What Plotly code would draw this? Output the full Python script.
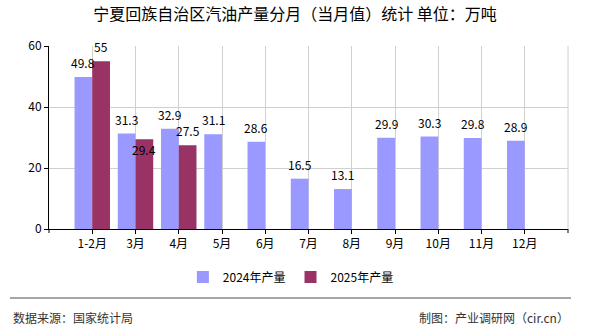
import plotly.graph_objects as go

categories = ["1-2月", "3月", "4月", "5月", "6月", "7月", "8月", "9月", "10月", "11月", "12月"]
values_2024 = [49.8, 31.3, 32.9, 31.1, 28.6, 16.5, 13.1, 29.9, 30.3, 29.8, 28.9]
values_2025 = [55, 29.4, 27.5]
series_names = ["2024年产量", "2025年产量"]
y_ticks = [0, 20, 40, 60]

FONT = "Noto Sans CJK SC"
W, H = 590, 330
L, R, T, B = 49, 22, 46, 101
pw, ph = W - L - R, H - T - B
BARGAP = 0.18

def px_x(x):
    return (x - L) / pw

def px_y(y):
    return (H - B - y) / ph

fig = go.Figure()
fig.add_trace(go.Bar(
    x=categories, y=values_2024, name=series_names[0],
    marker=dict(color="#9999FF", line=dict(width=0)),
))
fig.add_trace(go.Bar(
    x=categories[:len(values_2025)], y=values_2025, name=series_names[1],
    marker=dict(color="#993366", line=dict(width=0)),
))

fig.update_layout(
    width=W, height=H,
    margin=dict(l=L, r=R, t=T, b=B, pad=0),
    paper_bgcolor="white", plot_bgcolor="white",
    font=dict(family=FONT, size=12, color="#000000"),
    barmode="group", bargap=BARGAP, bargroupgap=0,
    title=dict(text="宁夏回族自治区汽油产量分月（当月值）统计 单位：万吨",
               x=0.5, xref="container", xanchor="center",
               y=1 - 14 / H, yref="container", yanchor="middle",
               font=dict(size=16, color="#000000", family=FONT)),
    legend=dict(orientation="h", xref="container", yref="container",
                x=0.493, xanchor="center", y=1 - 277 / H, yanchor="middle",
                font=dict(size=12, color="#000000", family=FONT),
                itemwidth=30, traceorder="normal"),
    showlegend=True,
)
fig.update_xaxes(
    type="category", categoryorder="array", categoryarray=categories,
    range=[-1, len(categories)],
    showline=True, linecolor="#000000", linewidth=1,
    ticks="outside", ticklen=4, tickcolor="#000000",
    showgrid=True, gridcolor="#d0d0d0", gridwidth=1,
    tickfont=dict(size=12, color="#000000", family=FONT),
    zeroline=False, fixedrange=True,
)
fig.update_yaxes(
    range=[0, 60], tickvals=y_ticks,
    showline=True, linecolor="#000000", linewidth=1,
    ticks="outside", ticklen=4, tickcolor="#000000",
    showgrid=True, gridcolor="#d0d0d0", gridwidth=1,
    tickfont=dict(size=12, color="#000000", family=FONT),
    zeroline=False, fixedrange=True,
)

# value labels, placed on the data coordinates of each bar
cat_px = pw / (len(categories) + 1)
half_offset = cat_px * (1 - BARGAP) / 4
for cat, v in zip(categories, values_2024):
    fig.add_annotation(x=cat, y=v, text=f"{v:g}", showarrow=False,
                       xshift=-half_offset, yshift=4, yanchor="bottom",
                       font=dict(size=12, color="#000000", family=FONT))
label_below_2025 = [False, True, False]
for cat, v, below in zip(categories, values_2025, label_below_2025):
    if below:
        fig.add_annotation(x=cat, y=v, text=f"{v:g}", showarrow=False,
                           xshift=half_offset, yshift=0, yanchor="top",
                           font=dict(size=12, color="#000000", family=FONT))
    else:
        fig.add_annotation(x=cat, y=v, text=f"{v:g}", showarrow=False,
                           xshift=half_offset, yshift=4, yanchor="bottom",
                           font=dict(size=12, color="#000000", family=FONT))

shapes = [
    dict(type="line", xref="paper", yref="paper", x0=1, x1=1, y0=0, y1=1,
         line=dict(color="#d0d0d0", width=1), layer="below"),
    dict(type="line", xref="paper", yref="paper", x0=0, x1=0, y0=0, y1=-4 / ph,
         line=dict(color="#000000", width=1)),
    dict(type="line", xref="paper", yref="paper", x0=1, x1=1, y0=0, y1=-4 / ph,
         line=dict(color="#000000", width=1)),
    dict(type="line", xref="paper", yref="paper", x0=px_x(10), x1=px_x(571),
         y0=px_y(298), y1=px_y(298), line=dict(color="#888888", width=1.5)),
]
fig.update_layout(shapes=shapes)

fig.add_annotation(text="数据来源：国家统计局", xref="paper", yref="paper",
                   x=px_x(11), y=px_y(317), xanchor="left", yanchor="middle",
                   showarrow=False, font=dict(size=12, color="#333333", family=FONT))
fig.add_annotation(text="制图：产业调研网（cir.cn）", xref="paper", yref="paper",
                   x=px_x(571), y=px_y(317), xanchor="right", yanchor="middle",
                   showarrow=False, font=dict(size=12, color="#333333", family=FONT))

fig.write_html("out.html", config={"displayModeBar": False})
